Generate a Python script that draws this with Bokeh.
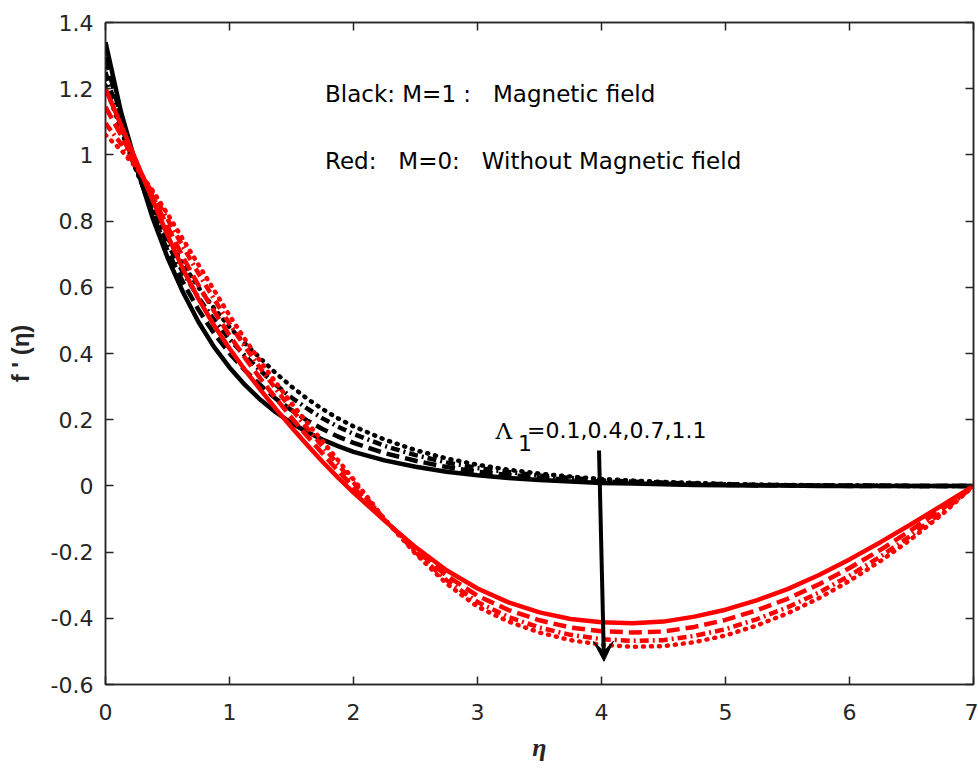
from bokeh.plotting import figure
from bokeh.models import Range1d, FixedTicker, LinearAxis, Label, Arrow, VeeHead
from bokeh.embed import file_html
from bokeh.resources import INLINE

# ---------------- data ----------------
eta = [0.0, 0.125, 0.25, 0.375, 0.5, 0.625, 0.75, 0.875, 1.0, 1.125, 1.25, 1.375, 1.5,
       1.625, 1.75, 1.875, 2.0, 2.25, 2.5, 2.75, 3.0, 3.25, 3.5, 3.75, 4.0, 4.25, 4.5,
       4.75, 5.0, 5.25, 5.5, 5.75, 6.0, 6.25, 6.5, 6.75, 7.0]

lambda_values = ["0.1", "0.4", "0.7", "1.1"]

# M = 1 (black), Lambda_1 = 0.1, 0.4, 0.7, 1.1
m1_l01 = [1.34, 1.13, 0.965, 0.815, 0.69, 0.585, 0.495, 0.42, 0.358, 0.305, 0.26, 0.222, 0.19,
          0.163, 0.14, 0.12, 0.103, 0.077, 0.058, 0.043, 0.032, 0.024, 0.018, 0.013, 0.009,
          0.007, 0.005, 0.003, 0.002, 0.001, 0.001, 0.0, 0.0, 0.0, 0.0, 0.0, 0.0]
m1_l04 = [1.295, 1.111, 0.96, 0.826, 0.711, 0.615, 0.532, 0.461, 0.401, 0.349, 0.304, 0.263, 0.229,
          0.198, 0.172, 0.149, 0.13, 0.099, 0.076, 0.057, 0.043, 0.033, 0.025, 0.018, 0.013,
          0.01, 0.007, 0.005, 0.003, 0.002, 0.002, 0.001, 0.0, 0.0, 0.0, 0.0, 0.0]
m1_l07 = [1.25, 1.091, 0.954, 0.836, 0.732, 0.645, 0.569, 0.502, 0.443, 0.393, 0.348, 0.305, 0.267,
          0.234, 0.204, 0.179, 0.157, 0.121, 0.093, 0.071, 0.054, 0.042, 0.031, 0.024, 0.017,
          0.013, 0.01, 0.007, 0.005, 0.003, 0.002, 0.001, 0.001, 0.001, 0.0, 0.0, 0.0]
m1_l11 = [1.21, 1.075, 0.95, 0.845, 0.75, 0.67, 0.6, 0.537, 0.48, 0.43, 0.385, 0.34, 0.30,
          0.264, 0.232, 0.204, 0.18, 0.14, 0.108, 0.083, 0.064, 0.049, 0.037, 0.028, 0.021,
          0.016, 0.012, 0.009, 0.006, 0.004, 0.003, 0.002, 0.001, 0.001, 0.0, 0.0, 0.0]

# M = 0 (red), Lambda_1 = 0.1, 0.4, 0.7, 1.1
m0_l01 = [1.20, 1.09, 0.98, 0.868, 0.758, 0.655, 0.565, 0.485, 0.415, 0.35, 0.29, 0.232, 0.177,
          0.124, 0.073, 0.025, -0.02, -0.105, -0.185, -0.255, -0.31, -0.352, -0.382, -0.402,
          -0.412, -0.415, -0.41, -0.395, -0.374, -0.346, -0.312, -0.27, -0.222, -0.17, -0.115,
          -0.058, 0.0]
m0_l04 = [1.145, 1.06, 0.972, 0.879, 0.784, 0.691, 0.606, 0.528, 0.455, 0.387, 0.324, 0.264, 0.206,
          0.151, 0.098, 0.046, -0.004, -0.103, -0.193, -0.271, -0.332, -0.375, -0.406, -0.428,
          -0.439, -0.443, -0.44, -0.426, -0.405, -0.376, -0.341, -0.298, -0.248, -0.193, -0.133,
          -0.069, 0.0]
m0_l07 = [1.095, 1.034, 0.965, 0.888, 0.806, 0.723, 0.642, 0.565, 0.49, 0.42, 0.355, 0.292, 0.232,
          0.175, 0.12, 0.065, 0.01, -0.101, -0.20, -0.285, -0.351, -0.396, -0.428, -0.45,
          -0.463, -0.468, -0.466, -0.453, -0.433, -0.403, -0.367, -0.323, -0.271, -0.213, -0.149,
          -0.078, 0.0]
m0_l11 = [1.06, 1.015, 0.96, 0.895, 0.822, 0.745, 0.668, 0.592, 0.515, 0.443, 0.376, 0.312, 0.25,
          0.192, 0.135, 0.078, 0.02, -0.10, -0.205, -0.295, -0.365, -0.41, -0.443, -0.466,
          -0.48, -0.486, -0.484, -0.472, -0.452, -0.422, -0.385, -0.34, -0.287, -0.227, -0.16,
          -0.085, 0.0]

x_ticks = [0, 1, 2, 3, 4, 5, 6, 7]
x_tick_labels = ["0", "1", "2", "3", "4", "5", "6", "7"]
y_ticks = [-0.6, -0.4, -0.2, 0, 0.2, 0.4, 0.6, 0.8, 1, 1.2, 1.4]
y_tick_labels = ["-0.6", "-0.4", "-0.2", "0", "0.2", "0.4", "0.6", "0.8", "1", "1.2", "1.4"]

# annotation arrow showing increasing Lambda_1 (data coords)
arrow_start = (3.98, 0.107)
arrow_end = (4.02, -0.53)

# ---------------- figure ----------------
FONT = "DejaVu Sans"
TXT = "#262626"

p = figure(width=978, height=770, output_backend="svg", toolbar_location=None,
           x_range=Range1d(0, 7), y_range=Range1d(-0.6, 1.4),
           x_axis_location=None, y_axis_location=None,
           min_border_left=105, min_border_right=5, min_border_top=22, min_border_bottom=86)
p.background_fill_color = "white"
p.border_fill_color = "white"
p.outline_line_color = TXT
p.outline_line_width = 1.5
p.xgrid.visible = False
p.ygrid.visible = False


def make_axis(ticks, labels, show_labels):
    ax = LinearAxis(ticker=FixedTicker(ticks=ticks),
                    major_label_overrides={t: l for t, l in zip(ticks, labels)})
    ax.axis_line_color = TXT
    ax.axis_line_width = 1.5
    ax.major_tick_line_color = TXT
    ax.major_tick_line_width = 1.5
    ax.major_tick_in = 8
    ax.major_tick_out = 0
    ax.minor_tick_line_color = None
    if show_labels:
        ax.major_label_text_font = FONT
        ax.major_label_text_font_size = "22px"
        ax.major_label_text_color = TXT
    else:
        ax.major_label_text_font_size = "0px"
        ax.major_label_standoff = 0
    return ax


xb = make_axis(x_ticks, x_tick_labels, True)
xb.major_label_standoff = 19
xb.axis_label = "η"
xb.axis_label_text_font = "Liberation Serif"
xb.axis_label_text_font_style = "bold italic"
xb.axis_label_text_font_size = "26px"
xb.axis_label_text_color = TXT
xb.axis_label_standoff = 10
p.add_layout(xb, "below")

yl = make_axis(y_ticks, y_tick_labels, True)
yl.major_label_standoff = 12
yl.axis_label = "f ' (η)"
yl.axis_label_text_font = "Liberation Sans"
yl.axis_label_text_font_style = "bold"
yl.axis_label_text_font_size = "24px"
yl.axis_label_text_color = TXT
yl.axis_label_standoff = 14
p.add_layout(yl, "left")

p.add_layout(make_axis(x_ticks, ["" for _ in x_ticks], False), "above")
p.add_layout(make_axis(y_ticks, ["" for _ in y_ticks], False), "right")

dashes = ["solid", "13 6", "9 4 2 4", "1 7"]
caps = ["butt", "butt", "butt", "round"]
LW = 4.5

for series, dash, cap in zip([m1_l01, m1_l04, m1_l07, m1_l11], dashes, caps):
    p.line(eta, series, line_color="black", line_width=LW, line_dash=dash,
           line_cap=cap, line_join="round")
for series, dash, cap in zip([m0_l01, m0_l04, m0_l07, m0_l11], dashes, caps):
    p.line(eta, series, line_color="red", line_width=LW, line_dash=dash,
           line_cap=cap, line_join="round")

# ---------------- annotations ----------------
NB = "\u00a0"
p.add_layout(Label(x=1.77, y=1.185, text="Black: M=1 :" + NB * 3 + "Magnetic field",
                   text_font=FONT, text_font_size="23px", text_color="black",
                   text_baseline="alphabetic", text_align="left"))
p.add_layout(Label(x=1.77, y=0.983, text="Red:" + NB * 3 + "M=0:" + NB * 3 + "Without Magnetic field",
                   text_font=FONT, text_font_size="23px", text_color="black",
                   text_baseline="alphabetic", text_align="left"))

p.add_layout(Label(x=3.145, y=0.167, text="Λ", text_font="DejaVu Serif",
                   text_font_size="23px", text_color="black", text_baseline="alphabetic"))
p.add_layout(Label(x=3.326, y=0.131, text="1", text_font=FONT,
                   text_font_size="22px", text_color="black", text_baseline="alphabetic"))
p.add_layout(Label(x=3.40, y=0.167, text="=" + ",".join(lambda_values), text_font=FONT,
                   text_font_size="22px", text_color="black", text_baseline="alphabetic"))

p.add_layout(Arrow(x_start=arrow_start[0], y_start=arrow_start[1],
                   x_end=arrow_end[0], y_end=arrow_end[1],
                   line_color="black", line_width=4,
                   end=VeeHead(size=20, fill_color="black", line_color="black", line_width=1)))

open("out.html", "w").write(file_html(p, INLINE))
